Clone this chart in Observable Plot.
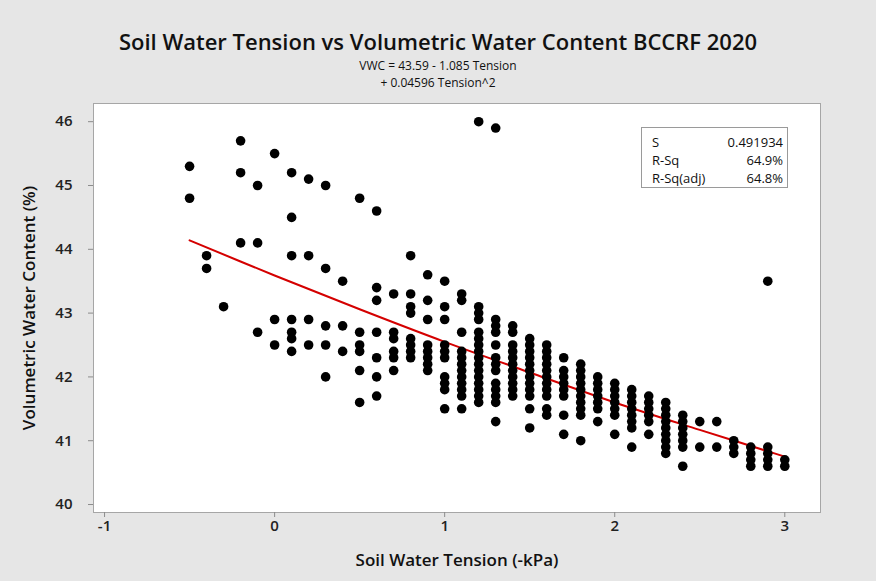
<!DOCTYPE html>
<html>
<head>
<meta charset="utf-8">
<script src="https://cdn.jsdelivr.net/npm/d3@7"></script>
<script src="https://cdn.jsdelivr.net/npm/@observablehq/plot@0.6"></script>
<style>
  html, body { margin: 0; padding: 0; background: #e6e6e6; }
  #wrap { position: relative; width: 876px; height: 581px; background: #e6e6e6; overflow: hidden; font-family: "Open Sans", sans-serif; color: #111; }
  #header { position: relative; height: 95px; }
  #title { position: absolute; left: 0; width: 876px; top: 28px; text-align: center; font-size: 22px; font-weight: 600; line-height: 26px; }
  .sub { position: absolute; left: 0; width: 876px; text-align: center; font-size: 12px; line-height: 15px; }
  #sub1 { top: 58px; }
  #sub2 { top: 75px; }
  #stats { position: absolute; left: 641px; top: 127px; width: 145px; height: 59px; background: #fff; border: 1px solid #9a9a9a; font-size: 13px; }
  .row { position: absolute; left: 10px; right: 4px; height: 18px; line-height: 18px; }
  .row .k { position: absolute; left: 0; }
  .row .v { position: absolute; right: 0; }
</style>
</head>
<body>
<div id="wrap">
  <div id="header">
    <div id="title">Soil Water Tension vs Volumetric Water Content BCCRF 2020</div>
    <div class="sub" id="sub1">VWC = 43.59 - 1.085 Tension</div>
    <div class="sub" id="sub2">+ 0.04596 Tension^2</div>
  </div>
  <div id="chart"></div>
  <div id="stats"></div>
</div>
<script>
// Tension column positions and the VWC values observed at each
const tensionColumns = [-0.5, -0.4, -0.3, -0.2, -0.1, 0.0, 0.1, 0.2, 0.3, 0.4, 0.5, 0.6, 0.7, 0.8, 0.9, 1.0,
  1.1, 1.2, 1.3, 1.4, 1.5, 1.6, 1.7, 1.8, 1.9, 2.0, 2.1, 2.2, 2.3, 2.4, 2.5, 2.6, 2.7, 2.8, 2.9, 3.0];
const vwcColumns = [
  [45.3, 44.8],
  [43.9, 43.7],
  [43.1],
  [45.7, 45.2, 44.1],
  [45.0, 44.1, 42.7],
  [45.5, 42.9, 42.5],
  [45.2, 44.5, 43.9, 42.9, 42.7, 42.6, 42.4],
  [45.1, 43.9, 42.9, 42.5],
  [45.0, 43.7, 42.8, 42.5, 42.0],
  [43.5, 42.8, 42.4],
  [44.8, 42.7, 42.5, 42.4, 42.1, 41.6],
  [44.6, 43.4, 43.2, 42.7, 42.3, 42.0, 41.7],
  [43.3, 42.7, 42.6, 42.4, 42.3, 42.1],
  [43.9, 43.3, 43.1, 43.0, 42.6, 42.5, 42.4, 42.3],
  [43.6, 43.2, 42.9, 42.5, 42.4, 42.3, 42.2, 42.1],
  [43.5, 43.1, 42.9, 42.5, 42.4, 42.3, 42.0, 41.9, 41.8, 41.5],
  [43.3, 43.2, 42.7, 42.4, 42.3, 42.2, 42.1, 42.0, 41.9, 41.8, 41.7, 41.5],
  [46.0, 43.1, 43.0, 42.9, 42.7, 42.6, 42.5, 42.4, 42.3, 42.2, 42.1, 42.0, 41.9, 41.8, 41.7, 41.6],
  [45.9, 42.9, 42.8, 42.7, 42.5, 42.3, 42.2, 42.1, 41.9, 41.8, 41.7, 41.6, 41.3],
  [42.8, 42.7, 42.5, 42.4, 42.3, 42.2, 42.1, 42.0, 41.9, 41.8, 41.7],
  [42.6, 42.5, 42.4, 42.3, 42.2, 42.1, 42.0, 41.9, 41.8, 41.7, 41.5, 41.2],
  [42.5, 42.4, 42.3, 42.2, 42.1, 42.0, 41.9, 41.8, 41.7, 41.5, 41.4],
  [42.3, 42.1, 42.0, 41.9, 41.8, 41.7, 41.4, 41.1],
  [42.2, 42.1, 42.0, 41.9, 41.8, 41.7, 41.6, 41.5, 41.4, 41.0],
  [42.0, 41.9, 41.8, 41.7, 41.6, 41.5, 41.3],
  [41.9, 41.8, 41.7, 41.6, 41.5, 41.4, 41.1],
  [41.8, 41.7, 41.6, 41.5, 41.4, 41.3, 41.2, 40.9],
  [41.7, 41.6, 41.5, 41.4, 41.3, 41.1],
  [41.6, 41.5, 41.4, 41.3, 41.2, 41.1, 41.0, 40.9, 40.8],
  [41.4, 41.3, 41.2, 41.1, 41.0, 40.9, 40.6],
  [41.3, 40.9],
  [41.3, 40.9],
  [41.0, 40.9, 40.8],
  [40.9, 40.8, 40.7, 40.6],
  [43.5, 40.9, 40.8, 40.7, 40.6],
  [40.7, 40.6]
];

// Fitted curve values read at tension steps
const fitTension = [-0.5, 0.0, 0.5, 1.0, 1.5, 2.0, 2.5, 3.0];
const fitVWC = [44.14, 43.59, 43.06, 42.55, 42.07, 41.60, 41.17, 40.75];

const xTicks = [-1, 0, 1, 2, 3];
const yTicks = [40, 41, 42, 43, 44, 45, 46];

const statLabels = ["S", "R-Sq", "R-Sq(adj)"];
const statValues = ["0.491934", "64.9%", "64.8%"];

const points = tensionColumns.flatMap((t, i) => vwcColumns[i].map(v => ({t, v})));
const fit = fitTension.map((t, i) => ({t, v: fitVWC[i]}));

const chart = Plot.plot({
  width: 876,
  height: 486,
  marginTop: 8,
  marginBottom: 69,
  marginLeft: 93,
  marginRight: 56,
  style: {background: "transparent", fontFamily: "Open Sans, sans-serif", overflow: "visible"},
  x: {domain: [-1.065, 3.21]},
  y: {domain: [39.875, 46.285]},
  marks: [
    Plot.frame({fill: "white", stroke: "#a6a6a6"}),
    Plot.axisX(xTicks, {tickSize: 5, tickPadding: 3, stroke: "#8c8c8c", fill: "#222", fontSize: 15, fontWeight: 600, tickFormat: d => String(d), label: null}),
    Plot.axisY(yTicks, {tickSize: 5, tickPadding: 16, stroke: "#8c8c8c", fill: "#222", fontSize: 15, fontWeight: 600, tickFormat: d => String(d), label: null}),
    Plot.text(["Soil Water Tension (-kPa)"], {frameAnchor: "bottom", dy: 48, lineAnchor: "middle", textAnchor: "middle", fontSize: 17, fontWeight: 600, fill: "#111"}),
    Plot.text(["Volumetric Water Content (%)"], {frameAnchor: "left", dx: -64, rotate: -90, lineAnchor: "middle", textAnchor: "middle", fontSize: 17, fontWeight: 600, fill: "#111"}),
    Plot.line(fit, {x: "t", y: "v", stroke: "#d40000", strokeWidth: 2, curve: "catmull-rom"}),
    Plot.dot(points, {x: "t", y: "v", r: 4.8, fill: "black", stroke: "none"})
  ]
});
document.getElementById("chart").appendChild(chart);

const stats = document.getElementById("stats");
statLabels.forEach((k, i) => {
  const row = document.createElement("div");
  row.className = "row";
  row.style.top = (5 + i * 18) + "px";
  row.innerHTML = `<span class="k">${k}</span><span class="v">${statValues[i]}</span>`;
  stats.appendChild(row);
});
</script>
</body>
</html>
